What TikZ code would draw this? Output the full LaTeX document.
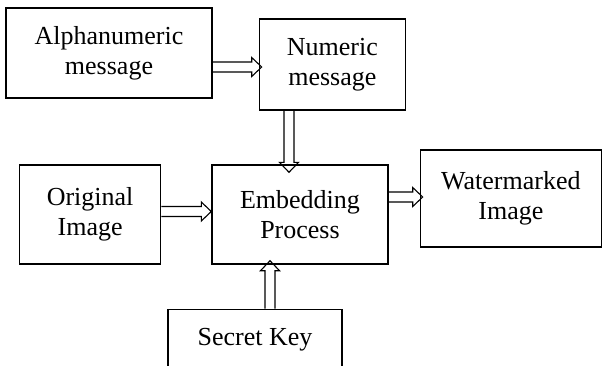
\documentclass[tikz,border=0pt]{standalone}
\usepackage{fontspec}
\setmainfont{Liberation Serif}
\usetikzlibrary{calc,positioning}
\tikzset{block/.style={rectangle, draw, line width=1.4pt, inner sep=0pt, align=center,
 font=\fontsize{26}{30}\selectfont}}
\tikzset{hollow/.style={draw, line width=1.1pt, to path={let \p1=($(\tikztotarget)!10pt!(\tikztostart)$) in
 ($(\tikztostart)!5pt!90:(\tikztotarget)$) -- ($(\p1)!5pt!90:(\tikztotarget)$) -- ($(\p1)!9.5pt!90:(\tikztotarget)$)
 -- (\tikztotarget) -- ($(\p1)!9.5pt!-90:(\tikztotarget)$) -- ($(\p1)!5pt!-90:(\tikztotarget)$)
 -- ($(\tikztostart)!5pt!-90:(\tikztotarget)$)}}}

\begin{document}
\begin{tikzpicture}[x=1pt, y=-1pt]
        \useasboundingbox (0,0) rectangle (603,365);
        \node[block, minimum width=176pt, minimum height=99pt] (embd) at (300,214.5) {Embedding\\Process};
        \node[block, minimum width=141pt, minimum height=99pt, left=50pt of embd] (orig) {Original\\Image};
        \node[block, minimum width=181pt, minimum height=97pt, right=31pt of embd, yshift=16pt] (wmrk) {Watermarked\\Image};
        \node[block, minimum width=206pt, minimum height=90pt] (alph) at (109,53) {Alphanumeric\\message};
        \node[block, minimum width=146pt, minimum height=91pt, right=46pt of alph, yshift=-11.5pt] (numr) {Numeric\\message};
        \node[block, minimum width=174pt, minimum height=60pt, below=44pt of embd, xshift=-45pt] (skey) {Secret Key};

        \path[hollow] (alph.east |- 0,67)   to ($(numr.west |- 0,67)+(3,0)$);
        \path[hollow] (289,0 |- numr.south) to ($(289,0 |- embd.north)+(0,8)$);
        \path[hollow] (orig.east |- 0,211.5) to (embd.west |- 0,211.5);
        \path[hollow] (embd.east |- 0,197)  to ($(wmrk.west |- 0,197)+(3,0)$);
        \path[hollow] (270,0 |- skey.north) to ($(270,0 |- embd.south)+(0,-4)$);
      \end{tikzpicture}
\end{document}
